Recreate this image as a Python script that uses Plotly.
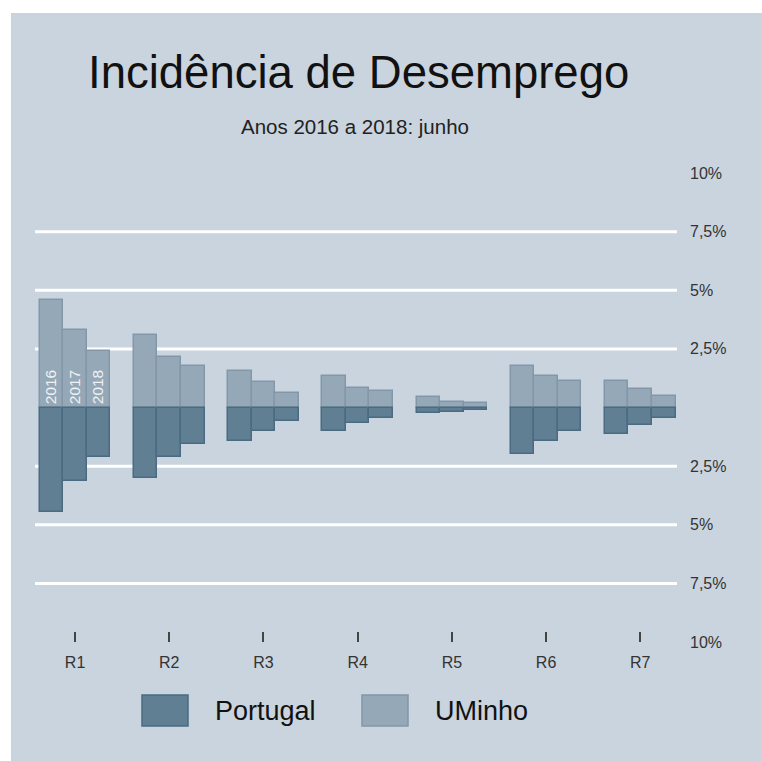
import plotly.graph_objects as go

# ---------------- data ----------------
regions = ["R1", "R2", "R3", "R4", "R5", "R6", "R7"]
years = ["2016", "2017", "2018"]

uminho_2016 = [4.60, 3.08, 1.57, 1.35, 0.43, 1.78, 1.11]
uminho_2017 = [3.32, 2.14, 1.10, 0.83, 0.24, 1.35, 0.79]
uminho_2018 = [2.39, 1.79, 0.61, 0.71, 0.19, 1.11, 0.50]

portugal_2016 = [4.44, 2.99, 1.42, 1.00, 0.24, 1.99, 1.14]
portugal_2017 = [3.13, 2.12, 1.00, 0.64, 0.18, 1.42, 0.74]
portugal_2018 = [2.09, 1.57, 0.57, 0.45, 0.10, 1.00, 0.45]

tick_values = [-10, -7.5, -5, -2.5, 0, 2.5, 5, 7.5, 10]
tick_labels = ["10%", "7,5%", "5%", "2,5%", "", "2,5%", "5%", "7,5%", "10%"]
grid_values = [-7.5, -5, -2.5, 2.5, 5, 7.5]

series_names = ["Portugal", "UMinho"]
title_text = "Incidência de Desemprego"
subtitle_text = "Anos 2016 a 2018: junho"

# ---------------- style ----------------
OFF = 0                      # page body margin (removed via post_script)
W, H = 762, 761
ML, MR, MT, MB = 35, 85, 173, 119
PW = W - ML - MR
PH = H - MT - MB
BG = "#c9d4df"
PT_FILL, PT_LINE = "#617f93", "#4a6b81"
UM_FILL, UM_LINE = "#95a8b7", "#8397a9"
FONT = "Liberation Sans, Arial, sans-serif"


def px2x(px):
    """screen x pixel -> paper x"""
    return (px - OFF - ML) / PW


def px2y(py):
    """screen y pixel -> paper y"""
    return (H - MB - (py - OFF)) / PH


fig = go.Figure()

uminho = [uminho_2016, uminho_2017, uminho_2018]
portugal = [portugal_2016, portugal_2017, portugal_2018]
bw = 0.25
for i, yr in enumerate(years):
    off = -0.375 + i * bw
    fig.add_trace(go.Bar(
        x=regions, y=uminho[i], name=series_names[1],
        width=bw, offset=off,
        marker=dict(color=UM_FILL, line=dict(color=UM_LINE, width=1.5)),
        text=[yr] + [""] * (len(regions) - 1),
        textposition="inside", insidetextanchor="start", textangle=-90,
        textfont=dict(color="#eef2f5", size=15.5, family=FONT),
        constraintext="none",
        showlegend=False,
    ))
    fig.add_trace(go.Bar(
        x=regions, y=[-v for v in portugal[i]], name=series_names[0],
        width=bw, offset=off,
        marker=dict(color=PT_FILL, line=dict(color=PT_LINE, width=1.5)),
        showlegend=False,
    ))

shapes = []
# grid lines
for g in grid_values:
    shapes.append(dict(type="line", xref="paper", yref="y", x0=0, x1=1, y0=g, y1=g,
                       line=dict(color="white", width=3), layer="below"))
# white outer margins (top and left)
shapes.append(dict(type="rect", xref="paper", yref="paper",
                   x0=px2x(OFF), x1=px2x(OFF + W), y0=px2y(13), y1=px2y(OFF),
                   fillcolor="white", line=dict(width=0), layer="above"))
shapes.append(dict(type="rect", xref="paper", yref="paper",
                   x0=px2x(OFF), x1=px2x(11), y0=px2y(OFF + H), y1=px2y(OFF),
                   fillcolor="white", line=dict(width=0), layer="above"))

# custom legend swatches
legend_items = [(series_names[0], PT_FILL, PT_LINE, 142, 213),
                (series_names[1], UM_FILL, UM_LINE, 362, 433)]
annotations = []
for name, fill, line, sx, tx in legend_items:
    shapes.append(dict(type="rect", xref="paper", yref="paper",
                       x0=px2x(sx), x1=px2x(sx + 46), y0=px2y(726), y1=px2y(695),
                       fillcolor=fill, line=dict(color=line, width=1.5)))
    annotations.append(dict(text=name, xref="paper", yref="paper",
                            x=px2x(tx), y=px2y(711), xanchor="left", yanchor="middle",
                            showarrow=False, font=dict(size=27, color="#111111", family=FONT)))

annotations.append(dict(text=title_text, xref="paper", yref="paper",
                        x=px2x(358), y=px2y(73), xanchor="center", yanchor="middle",
                        showarrow=False, font=dict(size=45.5, color="#111111", family=FONT)))
annotations.append(dict(text=subtitle_text, xref="paper", yref="paper",
                        x=px2x(355), y=px2y(127), xanchor="center", yanchor="middle",
                        showarrow=False, font=dict(size=20.5, color="#222222", family=FONT)))

fig.update_layout(
    width=W, height=H,
    margin=dict(l=ML, r=MR, t=MT, b=MB, pad=0),
    paper_bgcolor=BG, plot_bgcolor=BG,
    barmode="overlay",
    bargap=0,
    shapes=shapes,
    annotations=annotations,
    font=dict(family=FONT, color="#333333"),
    xaxis=dict(
        type="category", range=[-0.425, 6.39],
        showgrid=False, zeroline=False, showline=False,
        ticks="inside", ticklen=10, tickwidth=1.5, tickcolor="#444444",
        tickfont=dict(size=16, color="#333333"), ticklabelstandoff=9,
    ),
    yaxis=dict(
        range=[-10, 10], side="right",
        tickvals=tick_values, ticktext=tick_labels,
        showgrid=False, zeroline=False, showline=False, ticks="",
        tickfont=dict(size=16, color="#333333"), ticklabelstandoff=12,
    ),
)

fig.write_html(
    "out.html",
    config={"displayModeBar": False},
    post_script="document.body.style.margin='0';document.body.style.overflow='hidden';",
)
